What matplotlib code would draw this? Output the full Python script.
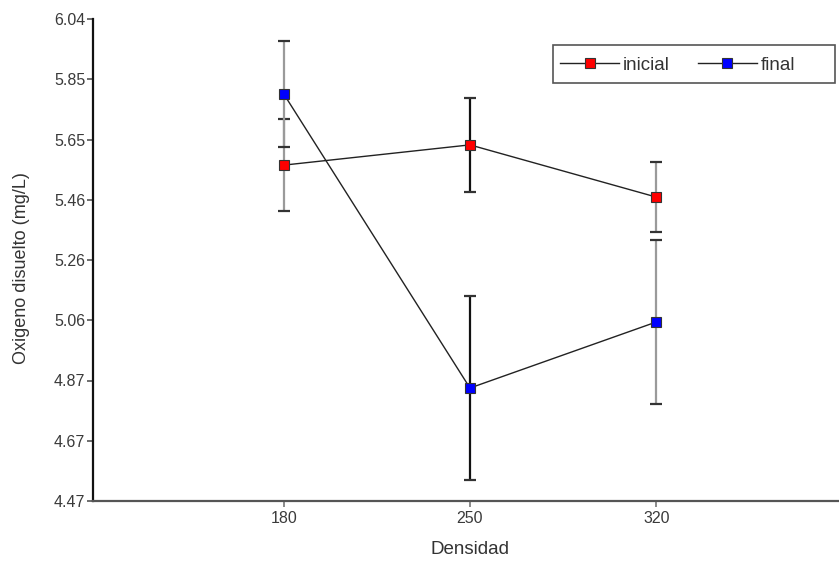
import matplotlib
matplotlib.use("Agg")
import matplotlib.pyplot as plt
from matplotlib.patches import Rectangle

plt.rcParams['font.family'] = ['Liberation Sans', 'DejaVu Sans']

categories = ["180", "250", "320"]
inicial = [5.564, 5.630, 5.460]
inicial_err = [0.151, 0.152, 0.113]
final = [5.796, 4.838, 5.053]
final_err = [0.173, 0.301, 0.267]
ytick_vals = [4.47, 4.67, 4.87, 5.06, 5.26, 5.46, 5.65, 5.85, 6.04]
ymin, ymax = 4.47, 6.04

W, H = 839, 563
fig = plt.figure(figsize=(W/100, H/100), dpi=100)
ax = fig.add_axes([93/W, 1-501/H, (838-93)/W, (501-19)/H])

x = [1, 2, 3]
bar_colors = ['#9a9a9a', '#111111', '#9a9a9a']

for vals, errs, fc, lab in [(inicial, inicial_err, '#ff0000', 'inicial'),
                             (final, final_err, '#0000ff', 'final')]:
    for xi, v, e, bc in zip(x, vals, errs, bar_colors):
        ax.errorbar([xi], [v], yerr=[e], fmt='none', ecolor=bc, elinewidth=1.6,
                    capsize=0, zorder=2)
        ax.errorbar([xi], [v], yerr=[e], fmt='none', ecolor='#333333', elinewidth=0,
                    capsize=4, capthick=1.6, zorder=2)
    ax.plot(x, vals, color='#222222', lw=1.0, marker='s', markersize=6.5,
            markerfacecolor=fc, markeredgecolor='#333333', markeredgewidth=0.8,
            label=lab, zorder=3)

n = len(ytick_vals)
pos = [ymin + i*(ymax-ymin)/(n-1) for i in range(n)]
ax.set_yticks(pos)
ax.set_yticklabels([f"{v:.2f}" for v in ytick_vals])
ax.set_ylim(ymin, ymax)
ax.set_xlim(-0.024, 3.976)
ax.set_xticks(x)
ax.set_xticklabels(categories)

for s in ['top', 'right']:
    ax.spines[s].set_visible(False)
ax.spines['left'].set_color('#111111')
ax.spines['left'].set_linewidth(1.6)
ax.spines['bottom'].set_color('#555555')
ax.spines['bottom'].set_linewidth(1.6)
ax.tick_params(axis='y', direction='out', length=4.5, width=1.2, color='#555555',
               labelsize=11.5, labelcolor='#3a3a3a', pad=1)
ax.tick_params(axis='x', direction='out', length=4, width=1.2, color='#777777',
               labelsize=11.5, labelcolor='#3a3a3a', pad=3.5)

fig.text(470/W, 1-549/H, 'Densidad', fontsize=13.5, color='#333333',
         ha='center', va='center')
fig.text(22/W, 1-268/H, 'Oxigeno disuelto (mg/L)', fontsize=13, color='#333333',
         ha='center', va='center', rotation=90)

# legend frame
frame = Rectangle((553/W, 1-83/H), (835-553)/W, (83-45)/H,
                  transform=fig.transFigure, fill=True, facecolor='white',
                  edgecolor='#555555', lw=1.2, zorder=5, clip_on=False)
ax.add_patch(frame)
leg = ax.legend(loc='center left', bbox_to_anchor=(560/W, 1-65/H),
                bbox_transform=fig.transFigure, ncol=2, fontsize=13.5,
                frameon=False, handlelength=3.15, handletextpad=0.2,
                columnspacing=1.5, borderpad=0, borderaxespad=0)
leg.set_zorder(6)
for t in leg.get_texts():
    t.set_color('#333333')

fig.savefig('out.png', dpi=100)
